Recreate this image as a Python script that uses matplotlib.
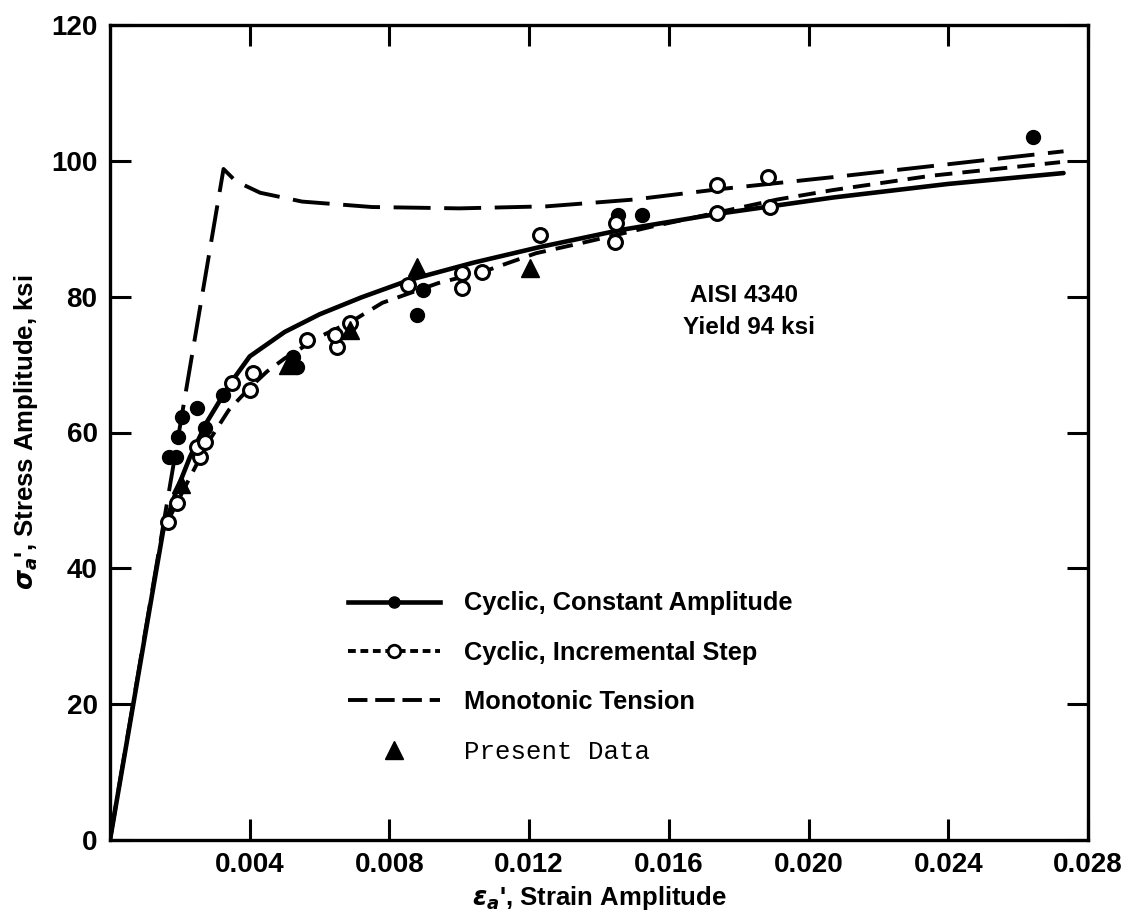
import matplotlib
matplotlib.use('Agg')
import matplotlib.pyplot as plt
from matplotlib.lines import Line2D

# curves
const_x = [0, 0.0012, 0.00152, 0.00186, 0.00229, 0.00278, 0.00344, 0.004, 0.005, 0.006,
           0.0072, 0.0086, 0.0104, 0.0123, 0.0146, 0.0174, 0.0207, 0.024, 0.0273]
const_y = [0, 36, 45.5, 50.8, 56.4, 61.6, 67.2, 71.2, 74.8, 77.4,
           79.9, 82.5, 85.0, 87.3, 89.8, 92.2, 94.6, 96.6, 98.2]

incr_x = [0.00166, 0.0021, 0.0025, 0.0029, 0.0034, 0.004, 0.0045, 0.005, 0.006, 0.0069,
          0.0078, 0.0094, 0.0107, 0.0122, 0.0135, 0.0155, 0.0174, 0.0191, 0.0207, 0.0235, 0.0272]
incr_y = [47, 51.5, 55.5, 59.3, 63.3, 66.6, 69.0, 70.9, 74.1, 76.3,
          79.1, 82.0, 83.7, 86.4, 87.9, 90.3, 92.4, 94.3, 95.7, 97.8, 99.8]

mono_x = [0, 0.00325, 0.0036, 0.0043, 0.0055, 0.0075, 0.0100, 0.0125, 0.0150, 0.0174,
          0.0207, 0.0240, 0.0273]
mono_y = [0, 98.8, 97.0, 95.3, 94.0, 93.2, 93.0, 93.3, 94.3, 95.8,
          97.6, 99.5, 101.4]

# data points
filled_x = [0.0017, 0.0019, 0.00195, 0.00206, 0.00249, 0.00272, 0.00324, 0.00524, 0.00535,
            0.00879, 0.00896, 0.01455, 0.01523, 0.02643]
filled_y = [56.4, 56.4, 59.4, 62.3, 63.6, 60.7, 65.5, 71.1, 69.7,
            77.3, 81.0, 92.0, 92.0, 103.5]

open_x = [0.00166, 0.00192, 0.00258, 0.00249, 0.00272, 0.00349, 0.004, 0.0041, 0.00564,
          0.0065, 0.00644, 0.00687, 0.00853, 0.01008, 0.01008, 0.01065, 0.0123, 0.01446,
          0.0145, 0.01738, 0.01738, 0.01884, 0.0189]
open_y = [46.8, 49.6, 56.4, 57.9, 58.6, 67.3, 66.3, 68.8, 73.6,
          72.6, 74.4, 76.1, 81.7, 83.5, 81.3, 83.7, 89.1, 88.1,
          90.9, 96.5, 92.3, 97.6, 93.2]

tri_x = [0.00203, 0.0051, 0.00687, 0.00879, 0.01203]
tri_y = [52.4, 70.0, 75.1, 84.4, 84.2]

x_ticks = [0.004, 0.008, 0.012, 0.016, 0.020, 0.024, 0.028]
y_ticks = [0, 20, 40, 60, 80, 100, 120]

plt.rcParams['font.family'] = ['Liberation Sans', 'DejaVu Sans']
plt.rcParams['font.weight'] = 'bold'
plt.rcParams['axes.labelweight'] = 'bold'
plt.rcParams['mathtext.fontset'] = 'dejavusans'

fig = plt.figure(figsize=(11.22, 9.24), dpi=100)
ax = fig.add_axes([110 / 1122, 1 - 840 / 924, 978 / 1122, 815 / 924])

lw = 2.8
ax.plot(mono_x, mono_y, color='black', lw=lw, dashes=(9.5, 3.5))
ax.plot(incr_x, incr_y, color='black', lw=lw, dashes=(4.5, 2.6))
ax.plot(const_x, const_y, color='black', lw=3.3, solid_capstyle='round')

ax.plot(filled_x, filled_y, 'o', color='black', ms=10, ls='none')
ax.plot(open_x, open_y, 'o', mfc='white', mec='black', mew=2.2, ms=10, ls='none')
ax.plot(tri_x, tri_y, '^', color='black', ms=13, ls='none')

ax.set_xlim(0, 0.028)
ax.set_ylim(0, 120)
ax.set_xticks(x_ticks)
ax.set_xticklabels([f"{t:.3f}" for t in x_ticks])
ax.set_yticks(y_ticks)
ax.tick_params(direction='in', length=15, width=2.2, top=True, right=True,
               labelsize=20, pad=9)
for s in ax.spines.values():
    s.set_linewidth(2.4)

ax.set_xlabel(r"$\varepsilon_a$', Strain Amplitude", fontsize=18.5, labelpad=4)
ax.set_ylabel(r"$\sigma_a$', Stress Amplitude, ksi", fontsize=18.5, labelpad=8)

ax.text(0.0166, 80.1, "AISI 4340", fontsize=17.5, ha='left', va='center')
ax.text(0.0164, 75.4, "Yield 94 ksi", fontsize=17.5, ha='left', va='center')

handles = [
    Line2D([], [], color='black', lw=3.3, marker='o', ms=8),
    Line2D([], [], color='black', lw=lw, dashes=(2.0, 1.2), marker='o', mfc='white',
           mec='black', mew=2, ms=9),
    Line2D([], [], color='black', lw=lw, dashes=(5.0, 2.0)),
    Line2D([], [], ls='none', marker='^', color='black', ms=13),
]
labels = ["Cyclic, Constant Amplitude", "Cyclic, Incremental Step",
          "Monotonic Tension", "Present Data"]
leg = ax.legend(handles, labels, loc='upper left', bbox_to_anchor=(0.22, 0.333),
                frameon=False, fontsize=18.3, handlelength=3.6, handletextpad=0.95,
                labelspacing=1.0, numpoints=1)
leg.get_texts()[3].set_family(['Liberation Mono', 'DejaVu Sans Mono'])
leg.get_texts()[3].set_weight('normal')
leg.get_texts()[3].set_size(18.5)

fig.savefig('out.png', dpi=100)
